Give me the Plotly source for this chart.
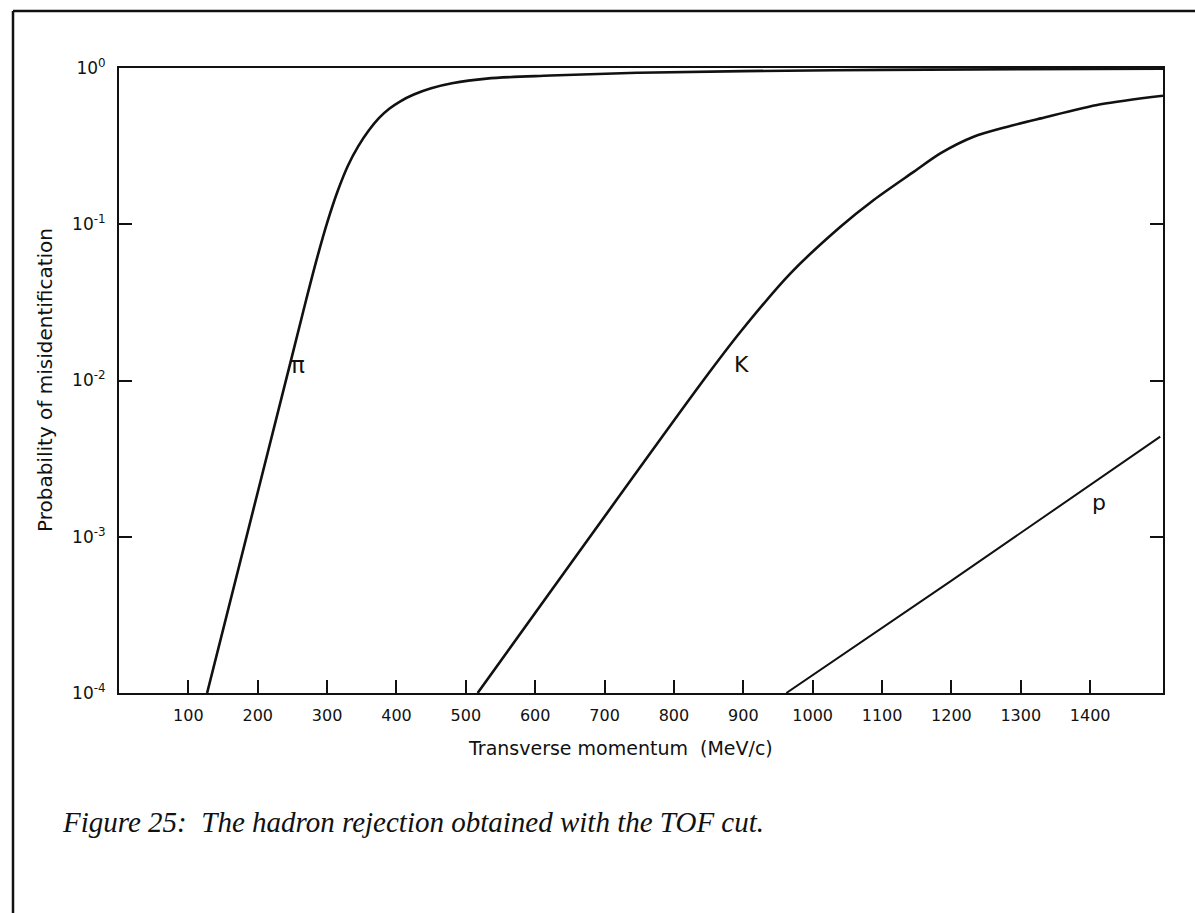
import plotly.graph_objects as go

# Misidentification probability vs transverse momentum (MeV/c) for each hadron
pi_p = [127, 248, 270, 285, 300, 315, 330, 345, 360, 375, 390, 405, 425, 450, 480, 530,
        622, 750, 900, 1100, 1300, 1505]
pi_prob = [1e-4, 0.0135, 0.0331, 0.0596, 0.102, 0.162, 0.237, 0.316, 0.398, 0.479, 0.550,
           0.610, 0.676, 0.741, 0.798, 0.855, 0.895, 0.933, 0.955, 0.973, 0.982, 0.989]

k_p = [517, 843, 896, 968, 1040, 1088, 1146, 1184, 1232, 1281, 1329, 1415, 1505]
k_prob = [1e-4, 0.0101, 0.0205, 0.0485, 0.0964, 0.143, 0.217, 0.284, 0.363, 0.421,
          0.476, 0.586, 0.665]

p_p = [962, 1198, 1501]
p_prob = [1e-4, 5.16e-4, 4.37e-3]

x_ticks = [100, 200, 300, 400, 500, 600, 700, 800, 900, 1000, 1100, 1200, 1300, 1400]
y_ticks = [1e-4, 1e-3, 1e-2, 1e-1, 1]
y_tick_text = ["10<sup>-4</sup>", "10<sup>-3</sup>", "10<sup>-2</sup>", "10<sup>-1</sup>", "10<sup>0</sup>"]

W, H = 1195, 913
L, R, T, B = 119, 32, 68, 220
pw, ph = W - L - R, H - T - B

def px_x(px):
    return (px - L) / pw

def px_y(py):
    return 1 - (py - T) / ph

font_sans = "DejaVu Sans"
ink = "#111111"

fig = go.Figure()
fig.add_trace(go.Scatter(x=pi_p, y=pi_prob, mode="lines",
                         line=dict(color=ink, width=2.6, shape="spline", smoothing=1.0)))
fig.add_trace(go.Scatter(x=k_p, y=k_prob, mode="lines",
                         line=dict(color=ink, width=2.6, shape="spline", smoothing=0.8)))
fig.add_trace(go.Scatter(x=p_p, y=p_prob, mode="lines",
                         line=dict(color=ink, width=2.0)))

fig.update_layout(
    width=W, height=H,
    margin=dict(l=L, r=R, t=T, b=B),
    paper_bgcolor="white", plot_bgcolor="white",
    showlegend=False,
    font=dict(family=font_sans, color=ink),
)

fig.update_xaxes(
    range=[0, 1505], showgrid=False, zeroline=False,
    showline=True, linecolor=ink, linewidth=2, mirror=True,
    ticks="inside", ticklen=13, tickwidth=2, tickcolor=ink,
    tickvals=x_ticks, ticktext=[str(v) for v in x_ticks],
    tickfont=dict(size=16, family=font_sans, color=ink),
    ticklabelstandoff=7,
)
fig.update_yaxes(
    type="log", range=[-4, 0], showgrid=False, zeroline=False,
    showline=True, linecolor=ink, linewidth=2, mirror="ticks",
    ticks="inside", ticklen=13, tickwidth=2, tickcolor=ink,
    tickvals=y_ticks, ticktext=y_tick_text,
    tickfont=dict(size=17, family=font_sans, color=ink),
    ticklabelstandoff=8,
)

annotations = [
    dict(text="Transverse momentum  (MeV/c)", xref="paper", yref="paper",
         x=px_x(620), y=px_y(748), xanchor="center", yanchor="middle", showarrow=False,
         font=dict(size=19, family=font_sans, color=ink)),
    dict(text="Probability of misidentification", xref="paper", yref="paper",
         x=px_x(45), y=px_y(380), xanchor="center", yanchor="middle",
         showarrow=False, textangle=-90,
         font=dict(size=20, family=font_sans, color=ink)),
    dict(text="π", xref="x", yref="y", x=258, y=-1.9, showarrow=False,
         font=dict(size=23, family=font_sans, color=ink)),
    dict(text="K", xref="x", yref="y", x=898, y=-1.9, showarrow=False,
         font=dict(size=22, family=font_sans, color=ink)),
    dict(text="p", xref="x", yref="y", x=1413, y=-2.78, showarrow=False,
         font=dict(size=22, family=font_sans, color=ink)),
    dict(text="<i>Figure 25:  The hadron rejection obtained with the TOF cut.</i>",
         xref="paper", yref="paper", x=px_x(60), y=px_y(822),
         xanchor="left", yanchor="middle", showarrow=False,
         font=dict(size=29, family="Liberation Serif", color=ink)),
]
fig.update_layout(annotations=annotations)

# Page frame: top and left rules
fig.add_shape(type="line", xref="paper", yref="paper",
              x0=px_x(13), x1=px_x(W), y0=px_y(11), y1=px_y(11),
              line=dict(color=ink, width=2.5))
fig.add_shape(type="line", xref="paper", yref="paper",
              x0=px_x(13), x1=px_x(13), y0=px_y(11), y1=px_y(H),
              line=dict(color=ink, width=2.5))

fig.write_html("out.html")
